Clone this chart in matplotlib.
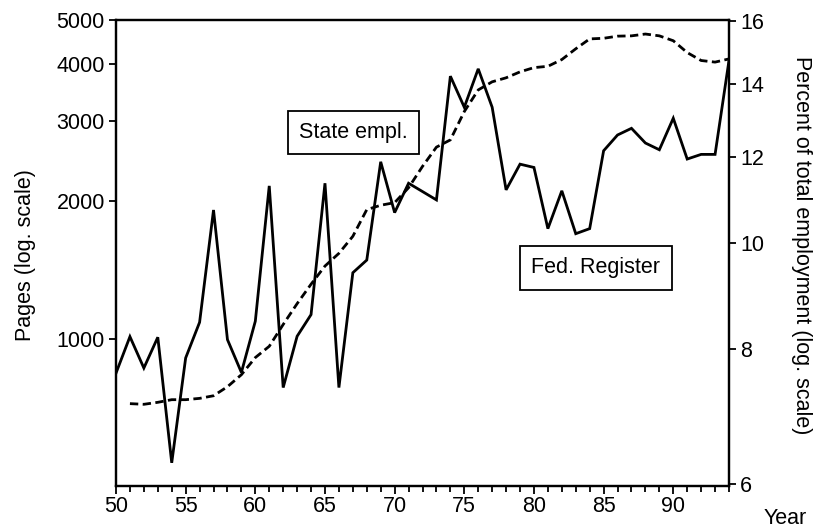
import numpy as np
import matplotlib
matplotlib.use("Agg")
import matplotlib.pyplot as plt
from matplotlib.ticker import FixedLocator, NullLocator, NullFormatter, MultipleLocator

plt.rcParams['font.family'] = ['Liberation Sans', 'DejaVu Sans']

# --- data ---
years = list(range(50, 95))
fed_register_pages = [840, 1010, 862, 1007, 534, 907, 1086, 1915, 995, 843,
                      1092, 2163, 781, 1012, 1129, 2192, 781, 1395, 1487, 2443,
                      1890, 2192, 2102, 2015, 3765, 3218, 3907, 3218, 2120, 2414,
                      2374, 1743, 2110, 1699, 1743, 2583, 2797, 2893, 2686, 2596,
                      3044, 2477, 2536, 2536, 4076]

state_years = list(range(51, 95))
state_empl_pct = [7.12, 7.11, 7.14, 7.18, 7.18, 7.20, 7.24, 7.38, 7.57,
                  7.85, 8.04, 8.42, 8.80, 9.17, 9.53, 9.79, 10.15, 10.74, 10.84,
                  10.90, 11.25, 11.77, 12.26, 12.45, 13.22, 13.84, 14.08, 14.20, 14.38,
                  14.51, 14.55, 14.76, 15.10, 15.42, 15.44, 15.51, 15.52, 15.58, 15.52,
                  15.36, 14.98, 14.73, 14.68, 14.78]

left_ticks = [1000, 2000, 3000, 4000, 5000]
right_ticks = [6, 8, 10, 12, 14, 16]
x_ticks = list(range(50, 95, 5))

FS = 15.5

fig = plt.figure(figsize=(8.17, 5.28), dpi=100)
ax = fig.add_axes([116/817, 1 - 486/528, (729 - 116)/817, (486 - 20)/528])
ax2 = ax.twinx()

ax.plot(years, fed_register_pages, color='black', lw=2.0, solid_joinstyle='miter')
ax2.plot(state_years, state_empl_pct, color='black', lw=2.0, dashes=(3.0, 1.6))

ax.set_yscale('log')
ax.set_ylim(475, 5000)
ax.yaxis.set_major_locator(FixedLocator(left_ticks))
ax.yaxis.set_minor_locator(NullLocator())
ax.set_yticklabels([str(t) for t in left_ticks])

ax2.set_yscale('log')
ax2.set_ylim(5.98, 16.05)
ax2.yaxis.set_major_locator(FixedLocator(right_ticks))
ax2.yaxis.set_minor_locator(NullLocator())
ax2.yaxis.set_minor_formatter(NullFormatter())
ax2.set_yticklabels([str(t) for t in right_ticks])

ax.set_xlim(50, 94)
ax.xaxis.set_major_locator(FixedLocator(x_ticks))
ax.xaxis.set_minor_locator(MultipleLocator(1))

for a in (ax, ax2):
    for s in a.spines.values():
        s.set_linewidth(1.6)
    a.tick_params(which='both', direction='out', width=1.3, labelsize=FS, colors='black')
ax.tick_params(axis='y', length=5, pad=3)
ax2.tick_params(axis='y', length=5, pad=3)
ax.tick_params(axis='x', which='major', length=6, pad=1)
ax.tick_params(axis='x', which='minor', length=4)

ax.set_ylabel('Pages (log. scale)', fontsize=FS, va='center')
ax.yaxis.set_label_coords(-0.147, 0.496)
ax2.set_ylabel('Percent of total employment (log. scale)', fontsize=FS, rotation=270,
               va='center')
ax2.yaxis.set_label_coords(1.118, 0.517)
fig.text(785/817, 1 - 518/528, 'Year', fontsize=FS, ha='center', va='center')

box = dict(boxstyle='square,pad=0.52', fc='white', ec='black', lw=1.3)
ax.text(0.388, 0.758, 'State empl.', transform=ax.transAxes, fontsize=FS,
        ha='center', va='center', bbox=box)
ax.text(0.783, 0.468, 'Fed. Register', transform=ax.transAxes, fontsize=FS,
        ha='center', va='center', bbox=box)

fig.savefig('out.png', dpi=100)
